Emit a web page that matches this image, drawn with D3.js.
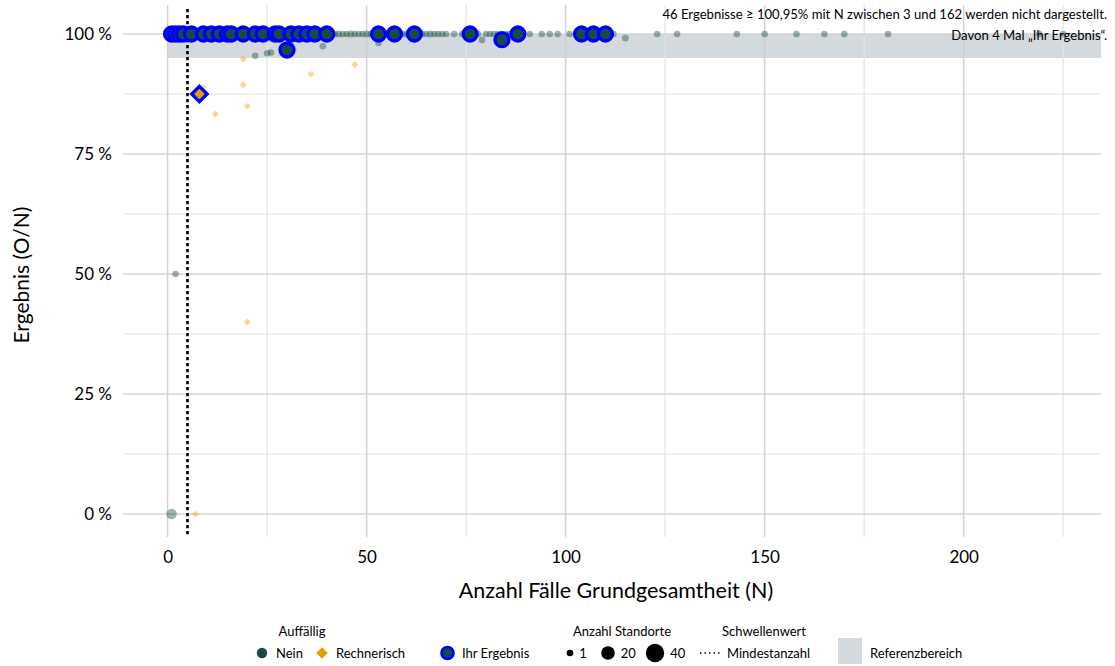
<!DOCTYPE html>
<html>
<head>
<meta charset="utf-8">
<script src="https://cdn.jsdelivr.net/npm/d3@7"></script>
<style>
  body { margin: 0; background: #fff; }
  text { font-family: Lato, "Open Sans", sans-serif; fill: #000; }
</style>
</head>
<body>
<div id="chart"></div>
<script>
// Data
// "Nein" (not conspicuous) results: N, rate in %, number of sites
var neinN =     [1, 2, 3, 4, 5, 6, 7, 8, 9, 10, 11, 12, 13, 14, 15, 16, 17, 18, 19, 20, 21, 23, 24, 25, 27, 28, 29, 30, 31, 32, 33, 34, 35, 36, 37, 38, 40, 41, 42, 43, 44, 45, 46, 47, 48, 49, 50, 51, 52, 54, 55, 56, 58, 59, 60, 61, 62, 63, 64, 65, 66, 67, 68, 69, 70, 72, 74, 75, 77, 78, 80, 81, 82, 83, 85, 86, 87, 89, 91, 94, 96, 98, 101, 112, 123, 128, 143, 150, 158, 165, 170, 181, 219, 225,
                22, 25, 26, 39, 53, 79, 115, 2, 1];
var neinRate =  [100, 100, 100, 100, 100, 100, 100, 100, 100, 100, 100, 100, 100, 100, 100, 100, 100, 100, 100, 100, 100, 100, 100, 100, 100, 100, 100, 100, 100, 100, 100, 100, 100, 100, 100, 100, 100, 100, 100, 100, 100, 100, 100, 100, 100, 100, 100, 100, 100, 100, 100, 100, 100, 100, 100, 100, 100, 100, 100, 100, 100, 100, 100, 100, 100, 100, 100, 100, 100, 100, 100, 100, 100, 100, 100, 100, 100, 100, 100, 100, 100, 100, 100, 100, 100, 100, 100, 100, 100, 100, 100, 100, 100, 100,
                95.45, 96, 96.15, 97.44, 98.11, 98.73, 99.13, 50, 0];
var neinSites = [8, 4, 3, 2, 2, 2, 2, 2, 2, 1, 2, 1, 1, 1, 1, 1, 1, 1, 1, 1, 1, 1, 1, 1, 1, 1, 1, 1, 1, 1, 1, 1, 1, 1, 1, 1, 1, 2, 1, 2, 1, 1, 2, 1, 1, 1, 2, 1, 1, 1, 1, 1, 1, 1, 1, 1, 1, 1, 1, 1, 2, 1, 1, 1, 1, 1, 1, 1, 1, 1, 1, 1, 1, 1, 1, 1, 1, 1, 1, 1, 1, 1, 1, 1, 1, 1, 1, 1, 1, 1, 1, 1, 1, 1,
                1, 1, 1, 1, 1, 1, 1, 1, 10];

// "Rechnerisch" (computationally conspicuous) results
var rechN =     [19, 36, 47, 19, 20, 12, 9, 20, 7];
var rechRate =  [94.74, 91.67, 93.62, 89.47, 85, 83.33, 88.89, 40, 0];
var rechSites = [1, 1, 1, 1, 1, 1, 1, 1, 1];

// "Ihr Ergebnis" (own results)
var ihrN =    [1, 2, 3, 4, 6, 9, 11, 13, 15, 16, 19, 22, 24, 27, 28, 31, 33, 35, 37, 40, 53, 57, 62, 76, 88, 104, 107, 110, 30, 84, 8];
var ihrRate = [100, 100, 100, 100, 100, 100, 100, 100, 100, 100, 100, 100, 100, 100, 100, 100, 100, 100, 100, 100, 100, 100, 100, 100, 100, 100, 100, 100, 96.67, 98.81, 87.5];
var ihrType = ["nein", "nein", "nein", "nein", "nein", "nein", "nein", "nein", "nein", "nein", "nein", "nein", "nein", "nein", "nein", "nein", "nein", "nein", "nein", "nein", "nein", "nein", "nein", "nein", "nein", "nein", "nein", "nein", "nein", "nein", "rech"];

var xTicks = [0, 50, 100, 150, 200];
var xMinor = [25, 75, 125, 175, 225];
var yTicks = [0, 25, 50, 75, 100];
var yMinor = [12.5, 37.5, 62.5, 87.5];
var minN = 5;                 // Mindestanzahl
var refBand = [95, 100];      // Referenzbereich
var noteLines = ["46 Ergebnisse \u2265 100,95% mit N zwischen 3 und 162 werden nicht dargestellt.",
                 "Davon 4 Mal \u201eIhr Ergebnis\u201c."];
var sizeLegend = [1, 20, 40];

var width = 1115, height = 666;
var pLeft = 123, pRight = 1101, pTop = 5, pBottom = 537;

var teal = "#174c45", orange = "#e69f00", blue = "#0000ff";
var gridCol = "#d0d0d0", minorCol = "#e4e4e4", bandCol = "#d3d9dd";

var svg = d3.select("#chart").append("svg")
    .attr("width", width)
    .attr("height", height);

var x = d3.scaleLinear().domain([-11.2, 234.5]).range([pLeft, pRight]);
var y = d3.scaleLinear().domain([-4.79, 106.04]).range([pBottom, pTop]);
// area-linear size scale for number of sites
var area = d3.scaleLinear().domain([1, 40]).range([3.3 * 3.3, 9.2 * 9.2]);
function rad(n) { return Math.sqrt(area(n)); }

function diamond(cx, cy, h) {
    return "M" + cx + "," + (cy - h) + "L" + (cx + h) + "," + cy + "L" + cx + "," + (cy + h) + "L" + (cx - h) + "," + cy + "Z";
}

// reference band
svg.append("rect")
    .attr("x", x(0))
    .attr("y", y(refBand[1]))
    .attr("width", pRight - x(0))
    .attr("height", y(refBand[0]) - y(refBand[1]))
    .attr("fill", bandCol);

// grid lines
var grid = svg.append("g");
grid.selectAll(".ymin").data(yMinor).enter().append("line")
    .attr("x1", pLeft).attr("x2", pRight)
    .attr("y1", d => y(d)).attr("y2", d => y(d))
    .attr("stroke", minorCol).attr("stroke-width", 1.2);
grid.selectAll(".xmin").data(xMinor).enter().append("line")
    .attr("y1", pTop).attr("y2", pBottom)
    .attr("x1", d => x(d)).attr("x2", d => x(d))
    .attr("stroke", minorCol).attr("stroke-width", 1.2);
grid.selectAll(".ymaj").data(yTicks).enter().append("line")
    .attr("x1", pLeft).attr("x2", pRight)
    .attr("y1", d => y(d)).attr("y2", d => y(d))
    .attr("stroke", gridCol).attr("stroke-width", 1.5).attr("opacity", 0.9);
grid.selectAll(".xmaj").data(xTicks).enter().append("line")
    .attr("y1", pTop).attr("y2", pBottom)
    .attr("x1", d => x(d)).attr("x2", d => x(d))
    .attr("stroke", gridCol).attr("stroke-width", 1.5).attr("opacity", 0.9);

// axes (labels only, no tick marks)
var xAxis = svg.append("g")
    .attr("transform", "translate(0," + pBottom + ")")
    .call(d3.axisBottom(x).tickValues(xTicks).tickSize(0).tickPadding(14).tickFormat(d3.format("d")));
xAxis.select(".domain").remove();
xAxis.selectAll("text").style("font-size", "17px").attr("fill", "#1a1a1a");

var yAxis = svg.append("g")
    .attr("transform", "translate(" + pLeft + ",0)")
    .call(d3.axisLeft(y).tickValues(yTicks).tickSize(0).tickPadding(11).tickFormat(d => d + " %"));
yAxis.select(".domain").remove();
yAxis.selectAll("text").style("font-size", "17px").attr("fill", "#1a1a1a");

svg.append("text")
    .attr("x", 616)
    .attr("y", 598)
    .attr("text-anchor", "middle")
    .style("font-size", "21.5px")
    .text("Anzahl F\u00e4lle Grundgesamtheit (N)");

svg.append("text")
    .attr("transform", "translate(29," + ((pTop + pBottom) / 2 + 4) + ") rotate(-90)")
    .attr("text-anchor", "middle")
    .style("font-size", "21px")
    .text("Ergebnis (O/N)");

// faded points
var neinData = neinN.map((n, i) => ({n: n, r: neinRate[i], s: neinSites[i]}));
svg.append("g").selectAll("circle").data(neinData).enter().append("circle")
    .attr("cx", d => x(d.n))
    .attr("cy", d => y(d.r))
    .attr("r", d => rad(d.s))
    .attr("fill", teal)
    .attr("fill-opacity", 0.42);

var rechData = rechN.map((n, i) => ({n: n, r: rechRate[i], s: rechSites[i]}));
svg.append("g").selectAll("path").data(rechData).enter().append("path")
    .attr("d", d => diamond(x(d.n), y(d.r), rad(d.s) + 0.3))
    .attr("fill", orange)
    .attr("fill-opacity", 0.4);

// Mindestanzahl threshold
svg.append("line")
    .attr("x1", x(minN)).attr("x2", x(minN))
    .attr("y1", pTop + 4).attr("y2", pBottom)
    .attr("stroke", "#000")
    .attr("stroke-width", 2.7)
    .attr("stroke-dasharray", "3.3,2.7");

// own results
var ihrData = ihrN.map((n, i) => ({n: n, r: ihrRate[i], t: ihrType[i]}));
var ihr = svg.append("g");
ihr.selectAll("circle").data(ihrData.filter(d => d.t === "nein")).enter().append("circle")
    .attr("cx", d => x(d.n))
    .attr("cy", d => y(d.r))
    .attr("r", 7)
    .attr("fill", teal)
    .attr("stroke", blue)
    .attr("stroke-width", 3.3);
ihr.selectAll("path").data(ihrData.filter(d => d.t === "rech")).enter().append("path")
    .attr("d", d => diamond(x(d.n), y(d.r), 7.7))
    .attr("fill", orange)
    .attr("stroke", blue)
    .attr("stroke-width", 3.3)
    .attr("stroke-linejoin", "miter");

// note
svg.append("g").selectAll("text").data(noteLines).enter().append("text")
    .attr("x", 1107)
    .attr("y", (d, i) => 19 + i * 21)
    .attr("text-anchor", "end")
    .style("font-size", "13.1px")
    .text(d => d);

// legend
var lg = svg.append("g").style("font-size", "13px");
var rowY = 653, titleY = 636;

lg.append("text").attr("x", 302).attr("y", titleY).attr("text-anchor", "middle").text("Auff\u00e4llig");
lg.append("circle").attr("cx", 262).attr("cy", rowY).attr("r", 5.2).attr("fill", teal);
lg.append("text").attr("x", 276).attr("y", rowY + 4.5).text("Nein");
lg.append("path").attr("d", diamond(322, rowY, 5.8)).attr("fill", orange);
lg.append("text").attr("x", 336).attr("y", rowY + 4.5).text("Rechnerisch");

lg.append("circle").attr("cx", 447.5).attr("cy", rowY).attr("r", 6).attr("fill", teal)
    .attr("stroke", blue).attr("stroke-width", 2.6);
lg.append("text").attr("x", 462).attr("y", rowY + 4.5).text("Ihr Ergebnis");

lg.append("text").attr("x", 622).attr("y", titleY).attr("text-anchor", "middle").text("Anzahl Standorte");
var sx = [570, 608, 655];
sizeLegend.forEach(function (s, i) {
    lg.append("circle").attr("cx", sx[i]).attr("cy", rowY).attr("r", rad(s)).attr("fill", "#000");
    lg.append("text").attr("x", sx[i] + rad(s) + 6).attr("y", rowY + 4.5).text(s);
});

lg.append("text").attr("x", 764).attr("y", titleY).attr("text-anchor", "middle").text("Schwellenwert");
lg.append("line").attr("x1", 700).attr("x2", 722).attr("y1", rowY).attr("y2", rowY)
    .attr("stroke", "#000").attr("stroke-width", 1.5).attr("stroke-dasharray", "1.5,3");
lg.append("text").attr("x", 727).attr("y", rowY + 4.5).text("Mindestanzahl");

lg.append("rect").attr("x", 838).attr("y", 638).attr("width", 24).attr("height", 26).attr("fill", bandCol);
lg.append("text").attr("x", 870).attr("y", rowY + 4.5).text("Referenzbereich");
</script>
</body>
</html>
